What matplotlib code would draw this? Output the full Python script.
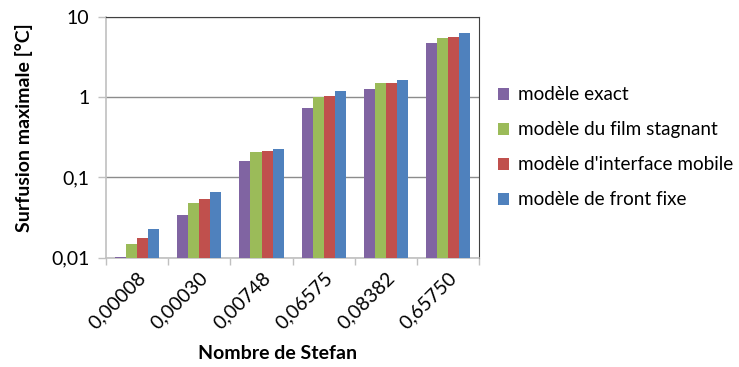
import numpy as np
import matplotlib
matplotlib.use('Agg')
import matplotlib.pyplot as plt
from matplotlib.ticker import FixedLocator, NullLocator

plt.rcParams['font.family'] = ['Lato', 'DejaVu Sans']

stefan = ['0,00008', '0,00030', '0,00748', '0,06575', '0,08382', '0,65750']
series_names = ['modèle exact', 'modèle du film stagnant',
                "modèle d'interface mobile", 'modèle de front fixe']
exact = [0.0103, 0.0337, 0.160, 0.731, 1.26, 4.68]
film = [0.0147, 0.048, 0.207, 1.00, 1.50, 5.49]
interface = [0.0175, 0.0538, 0.213, 1.02, 1.50, 5.65]
front = [0.023, 0.0652, 0.224, 1.18, 1.62, 6.23]
colors = ['#8064A2', '#9BBB59', '#C0504D', '#4F81BD']
y_ticks = [0.01, 0.1, 1, 10]
y_labels = ['0,01', '0,1', '1', '10']

fig = plt.figure(figsize=(7.39, 3.67), dpi=100)
ax = fig.add_axes([0.1434, 0.2978, 0.5052, 0.6567])

x = np.arange(len(stefan))
w = 0.178
for i, (vals, name, c) in enumerate(zip([exact, film, interface, front], series_names, colors)):
    ax.bar(x + (i - 1.5) * w, vals, w, color=c, label=name, zorder=3)

ax.set_yscale('log')
ax.set_ylim(0.01, 10)
ax.set_xlim(-0.5, len(stefan) - 0.5)
ax.yaxis.set_major_locator(FixedLocator(y_ticks))
ax.yaxis.set_minor_locator(NullLocator())
ax.set_yticklabels(y_labels, fontsize=14)
ax.grid(axis='y', color='#8c8c8c', linewidth=1, zorder=0)

ax.set_xticks(x)
ax.set_xticklabels(stefan, rotation=45, ha='right', rotation_mode='anchor', fontsize=14)
ax.set_xticks(np.arange(len(stefan) + 1) - 0.5, minor=True)
ax.tick_params(axis='x', which='major', length=0, pad=8)
ax.tick_params(axis='x', which='minor', length=5, color='#c0c0c0', width=1)
ax.tick_params(axis='y', length=6, color='#c0c0c0', width=1, pad=6)

for s in ['top', 'right']:
    ax.spines[s].set_color('#404040')
for s in ['left', 'bottom']:
    ax.spines[s].set_color('#c0c0c0')
    ax.spines[s].set_linewidth(1.2)

fig.text(0.032, 1 - 127.5 / 367, 'Surfusion maximale [°C]', fontsize=14, fontweight='bold',
         rotation=90, ha='center', va='center')
fig.text(0.376, 0.014, 'Nombre de Stefan', fontsize=14, fontweight='bold', ha='center', va='bottom')

fig.legend(loc='upper left', bbox_to_anchor=(0.663, 0.785), frameon=False, fontsize=13.6,
           handlelength=0.6, handleheight=0.6, handletextpad=0.5, labelspacing=0.95,
           borderaxespad=0)

fig.savefig('out.png', dpi=100)
